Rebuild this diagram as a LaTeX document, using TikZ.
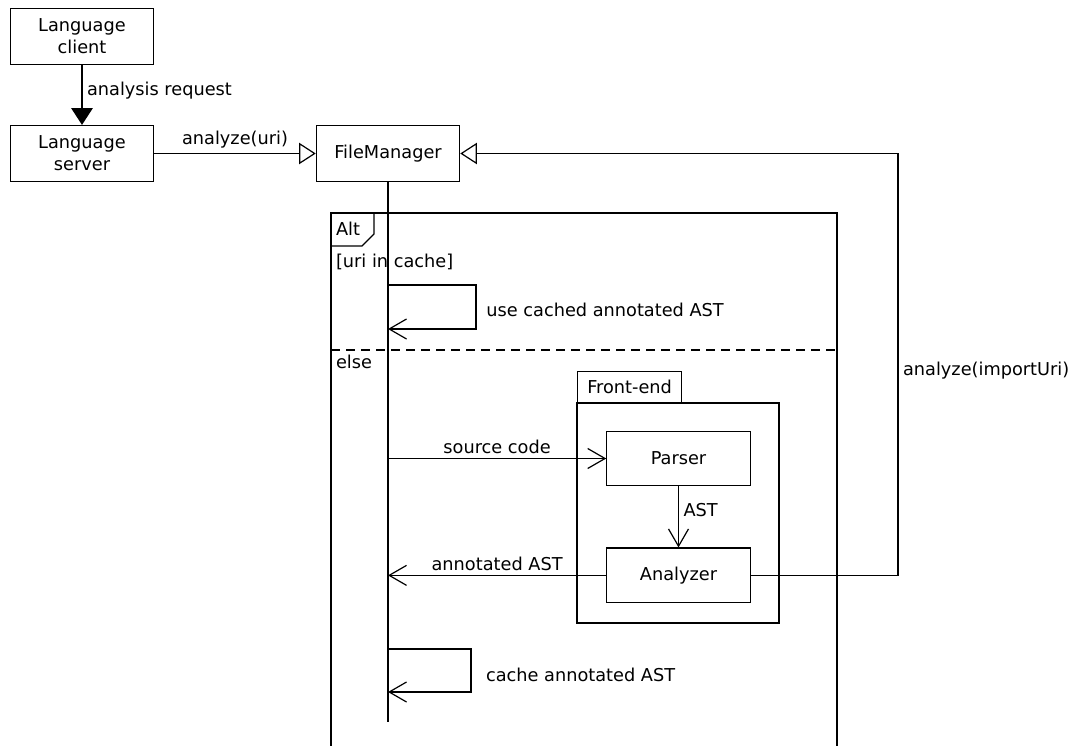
\documentclass[tikz,border=0pt]{standalone}
\usepackage{fontspec}
\setmainfont{DejaVu Sans}
\usetikzlibrary{arrows.meta, positioning}

\begin{document}
\begin{tikzpicture}[x=0.75pt, y=-0.75pt, line width=0.9pt,
  font=\fontsize{13.3}{16.5}\selectfont,
  box/.style={draw, align=center, minimum width=107.5pt, minimum height=42pt, inner sep=0pt},
  call/.style={-{Triangle[open, length=12.5pt, width=16pt]}},
  req/.style={-{Triangle[length=12.5pt, width=16pt]}},
  msg/.style={-{Straight Barb[length=13pt, width=15pt]}},
  fetab/.style={draw, minimum width=78pt, minimum height=23.25pt, inner sep=0pt}]
\useasboundingbox (0,0) rectangle (1071,746);
% The client and server on the left, the FileManager with its
% lifeline, then the Alt frame holding the Front-end package.
\node[box] (client) at (82,36.5) {Language\\client};
\node[box] (server) at (82,153.5) {Language\\server};
\node[box] (fm) at (388,153.5) {FileManager};
\coordinate (fmend) at (388,722);
\draw (fm.south) -- (fmend);

% Alt frame (open at the bottom) with its tab and guards
\draw (331,746) -- (331,213) -- (837,213) -- (837,746);
\draw (331,246) -- (362,246) -- (374,234) -- (374,213);
\node[anchor=west] (alt) at (331,229) {Alt};
\node[anchor=west] (guard) at (331,262) {[uri in cache]};
\draw[dash pattern=on 6.75pt off 4.5pt] (331,350) -- (837,350);
\node[anchor=west] (else) at (331,362) {else};

% Front-end package
\node[fetab, anchor=south west] (fe) at (577,403) {Front-end};
\draw (577,403) rectangle (779,623);
\node[box, minimum height=41pt] (parser) at (678.5,458.5) {Parser};
\node[box, minimum height=41pt, below=45.75pt of parser] (an) {Analyzer};

% messages
\draw[req] (client.south) -- node[right, pos=0.42]{analysis request} (server.north);
\draw[call] (server.east) -- node[above]{analyze(uri)} (fm.west);
\coordinate (ret) at (898,153.5);
\draw[call] (an.east) -| node[pos=0.743, right]{analyze(importUri)} (ret) -- (fm.east);

\coordinate (u1) at (388,285);
\coordinate (u2) at (388,329);
\draw[msg] (u1) -- ++(88,0) |- node[pos=0.25, right=4pt, yshift=-2.5pt]{use cached annotated AST} (u2);

\draw[msg] (fm |- parser.west) -- node[above]{source code} (parser.west);
\draw[msg] (parser.south) -- node[right, pos=0.38]{AST} (an.north);
\draw[msg] (an.west) -- node[above]{annotated AST} (fm |- an.west);

\coordinate (c1) at (388,649);
\coordinate (c2) at (388,692);
\draw[msg] (c1) -- ++(83,0) |- node[pos=0.25, right=7.5pt, yshift=-3pt]{cache annotated AST} (c2);
\end{tikzpicture}
\end{document}
